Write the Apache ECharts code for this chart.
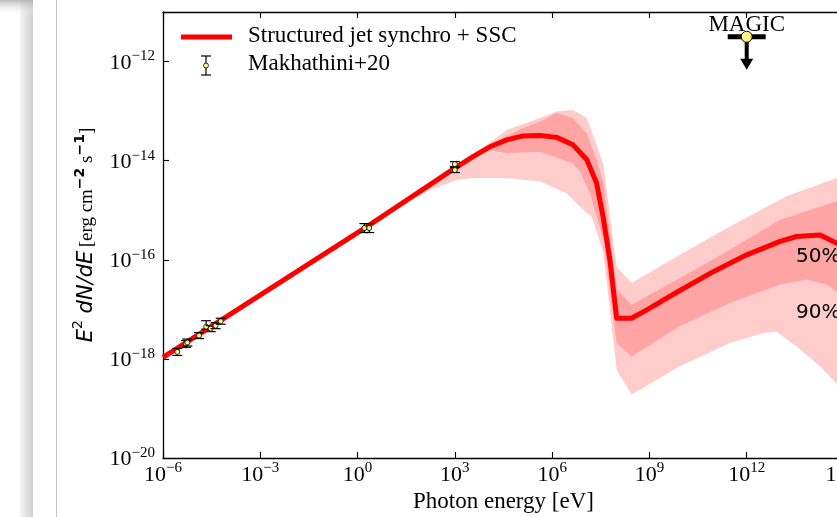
<!DOCTYPE html>
<html>
<head>
<meta charset="utf-8">
<script src="https://cdn.jsdelivr.net/npm/echarts@6/dist/echarts.min.js"></script>
<style>
  html, body { margin: 0; padding: 0; background: #fff; }
  #chart { width: 837px; height: 517px; }
</style>
</head>
<body>
<div id="chart"></div>
<script>
// all values are log10 (energy in eV, flux in erg cm^-2 s^-1)
const xTicks = [-6, -3, 0, 3, 6, 9, 12, 15];
const yTicks = [-20, -18, -16, -14, -12];

// structured jet synchro + SSC model
const modelLogE = [-6, 0.29, 3.0, 3.56, 4.08, 4.6, 5.1, 5.63, 6.14, 6.64, 7.07, 7.37, 7.57, 7.78, 7.99, 8.45, 8.92, 9.94, 10.97, 12.0, 13.03, 13.54, 14.26, 14.77, 15.2];
const modelLogF = [-17.97, -15.33, -14.15, -13.92, -13.72, -13.58, -13.50, -13.49, -13.53, -13.68, -13.98, -14.45, -15.13, -16.0, -17.18, -17.18, -17.01, -16.62, -16.24, -15.90, -15.63, -15.53, -15.50, -15.66, -15.9];

// 90% band
const band90HiE = [1.0, 2.2, 3.0, 4.08, 4.6, 5.63, 6.14, 6.64, 7.07, 7.37, 7.58, 7.78, 7.99, 8.45, 9.94, 11.48, 13.23, 14.77, 15.2];
const band90HiF = [-15.01, -14.49, -14.10, -13.64, -13.38, -13.14, -13.01, -12.98, -13.14, -13.68, -14.08, -15.09, -16.14, -16.47, -15.90, -15.33, -14.72, -14.35, -14.25];
const band90LoE = [1.0, 2.23, 3.06, 3.56, 4.6, 5.63, 6.45, 6.95, 7.22, 7.58, 7.99, 8.45, 9.94, 11.48, 12.51, 12.92, 13.54, 14.26, 14.77, 15.2];
const band90LoF = [-15.03, -14.59, -14.39, -14.35, -14.35, -14.42, -14.66, -14.99, -15.13, -15.86, -18.22, -18.72, -18.15, -17.68, -17.48, -17.45, -17.75, -18.15, -18.49, -18.72];

// 50% band
const band50HiE = [2.5, 3.0, 4.08, 5.1, 5.63, 6.14, 6.64, 7.07, 7.37, 7.58, 7.99, 8.45, 9.94, 11.48, 13.03, 14.77, 15.2];
const band50HiF = [-14.36, -14.12, -13.68, -13.34, -13.21, -13.04, -13.14, -13.45, -13.98, -14.45, -16.60, -16.91, -16.37, -15.80, -15.19, -14.82, -14.73];
const band50LoE = [2.5, 3.0, 4.08, 4.6, 5.63, 6.64, 6.86, 7.17, 7.58, 7.99, 8.45, 9.94, 11.48, 13.03, 13.85, 14.47, 14.77, 15.2];
const band50LoF = [-14.38, -14.17, -13.78, -13.85, -13.82, -14.05, -14.22, -14.66, -15.60, -17.68, -17.95, -17.34, -16.87, -16.50, -16.40, -16.50, -16.64, -16.81];

// Makhathini+20 data points with errors (dex)
const dataLogE = [-5.56, -5.29, -5.25, -4.89, -4.67, -4.53, -4.38, -4.22, 0.21, 0.36, 3.0, 3.0];
const dataLogF = [-17.86, -17.70, -17.67, -17.53, -17.35, -17.39, -17.33, -17.24, -15.36, -15.36, -14.07, -14.19];
const dataErrLo = [0.07, 0.07, 0.07, 0.06, 0.05, 0.06, 0.06, 0.06, 0.09, 0.09, 0.05, 0.05];
const dataErrHi = [0.07, 0.07, 0.07, 0.06, 0.12, 0.06, 0.06, 0.06, 0.09, 0.09, 0.05, 0.05];

// MAGIC upper limit
const magicLogE = 12;
const magicLogF = -11.50;

const serif = 'Liberation Serif';
const chart = echarts.init(document.getElementById('chart'));

const pairs = (xs, ys) => xs.map((x, i) => [x, ys[i]]);
const supText = v => (v < 0 ? '\u2212' + Math.abs(v) : String(v));
const tickRich = {
  b: { fontFamily: serif, fontSize: 22, color: '#000', verticalAlign: 'bottom', lineHeight: 25 },
  s: { fontFamily: serif, fontSize: 15, color: '#000', verticalAlign: 'bottom', lineHeight: 15, padding: [0, 0, 10, 0] }
};

function bandSeries(hiE, hiF, loE, loF, color, z) {
  return {
    type: 'custom',
    z: z,
    silent: true,
    data: [[hiE[0], hiF[0]]],
    renderItem: (params, api) => {
      const pts = pairs(hiE, hiF).concat(pairs(loE, loF).reverse()).map(p => api.coord(p));
      return { type: 'polygon', shape: { points: pts }, style: { fill: color } };
    }
  };
}

const option = {
  animation: false,
  grid: { left: 163, top: 12, right: -7, bottom: 59, containLabel: false, outerBoundsMode: 'none' },
  xAxis: [{
    type: 'value', min: -6, max: 15, interval: 3, position: 'bottom',
    axisLine: { onZero: false, lineStyle: { color: '#000', width: 1.3 } },
    axisTick: { inside: true, length: 6, lineStyle: { color: '#000', width: 1.1 } },
    splitLine: { show: false },
    axisLabel: {
      margin: 3, showMinLabel: true, showMaxLabel: true,
      formatter: v => xTicks.indexOf(v) >= 0 ? '{b|10}{s|' + supText(v) + '}' : '',
      rich: tickRich
    },
    name: 'Photon energy [eV]', nameLocation: 'middle', nameGap: 26,
    nameTextStyle: { fontFamily: serif, fontSize: 23, color: '#000' }
  }, {
    type: 'value', min: -6, max: 15, interval: 3, position: 'top',
    axisLine: { onZero: false, lineStyle: { color: '#000', width: 1.3 } },
    axisTick: { inside: true, length: 6, lineStyle: { color: '#000', width: 1.1 } },
    axisLabel: { show: false }, splitLine: { show: false }
  }],
  yAxis: [{
    type: 'value', min: -20, max: -11, interval: 2, position: 'left',
    axisLine: { onZero: false, lineStyle: { color: '#000', width: 1.3 } },
    axisTick: { inside: true, length: 6, lineStyle: { color: '#000', width: 1.1 } },
    splitLine: { show: false },
    axisLabel: {
      margin: 8, showMinLabel: true,
      formatter: v => yTicks.indexOf(v) >= 0 ? '{b|10}{s|' + supText(v) + '}' : '',
      rich: tickRich
    },
    name: '{i|E}{is|2}{i| dN/dE} {r|[erg cm}{rs|\u22122}{r| s}{rs|\u22121}{r|]}',
    nameLocation: 'middle', nameRotate: 90, nameGap: 66,
    nameTextStyle: {
      rich: {
        i: { fontFamily: 'DejaVu Sans', fontStyle: 'italic', fontSize: 21, color: '#000', verticalAlign: 'bottom', lineHeight: 26 },
        is: { fontFamily: 'DejaVu Sans', fontSize: 14, color: '#000', verticalAlign: 'bottom', lineHeight: 14, padding: [0, 0, 12, 0] },
        r: { fontFamily: serif, fontSize: 19, color: '#000', verticalAlign: 'bottom', lineHeight: 24 },
        rs: { fontFamily: 'DejaVu Sans', fontSize: 14, fontWeight: 'bold', color: '#000', verticalAlign: 'bottom', lineHeight: 14, padding: [0, 0, 10, 0] }
      }
    }
  }],
  graphic: [
    // screenshot edge shading on the left
    { type: 'rect', left: 20, top: 0, shape: { width: 13, height: 517 }, z: -10,
      style: { fill: new echarts.graphic.LinearGradient(0, 0, 1, 0, [{ offset: 0, color: '#f4f4f4' }, { offset: 1, color: '#cfcfcf' }]) } },
    { type: 'rect', left: 0, top: 0, shape: { width: 33, height: 16 }, z: -9,
      style: { fill: new echarts.graphic.LinearGradient(0, 0, 0, 1, [{ offset: 0, color: 'rgba(170,170,170,0.8)' }, { offset: 1, color: 'rgba(255,255,255,0)' }]) } },
    { type: 'rect', left: 56, top: 0, shape: { width: 1, height: 517 }, z: -10, style: { fill: '#c4c4c4' } },
    // legend
    { type: 'line', shape: { x1: 181, y1: 37, x2: 232, y2: 37 }, style: { stroke: '#ff0000', lineWidth: 5 } },
    { type: 'text', left: 248, top: 24, style: { text: 'Structured jet synchro + SSC', font: '23px "Liberation Serif"', fill: '#000' } },
    { type: 'line', shape: { x1: 206, y1: 56, x2: 206, y2: 75 }, style: { stroke: '#000', lineWidth: 1.2 } },
    { type: 'line', shape: { x1: 201, y1: 56, x2: 211, y2: 56 }, style: { stroke: '#000', lineWidth: 1.2 } },
    { type: 'line', shape: { x1: 201, y1: 75, x2: 211, y2: 75 }, style: { stroke: '#000', lineWidth: 1.2 } },
    { type: 'circle', shape: { cx: 206, cy: 65.5, r: 2.5 }, style: { fill: '#fdf58c', stroke: '#000', lineWidth: 0.8 } },
    { type: 'text', left: 248, top: 52, style: { text: 'Makhathini+20', font: '23px "Liberation Serif"', fill: '#000' } },
    // band labels
    { type: 'text', left: 796, top: 247, z: 20, style: { text: '50%', font: '20px "DejaVu Sans"', fill: '#000' } },
    { type: 'text', left: 796, top: 303, z: 20, style: { text: '90%', font: '20px "DejaVu Sans"', fill: '#000' } }
  ],
  series: [
    bandSeries(band90HiE, band90HiF, band90LoE, band90LoF, '#ffcccc', 1),
    bandSeries(band50HiE, band50HiF, band50LoE, band50LoF, '#ffa4a4', 2),
    {
      type: 'line', z: 3, silent: true,
      data: pairs(modelLogE, modelLogF),
      showSymbol: false,
      lineStyle: { color: '#ff0000', width: 5, join: 'round' }
    },
    {
      type: 'custom', z: 5, silent: true,
      data: dataLogE.map((e, i) => [e, dataLogF[i], dataErrLo[i], dataErrHi[i]]),
      renderItem: (params, api) => {
        const e = api.value(0), f = api.value(1);
        const p = api.coord([e, f]);
        const lo = api.coord([e, f - api.value(2)]);
        const hi = api.coord([e, f + api.value(3)]);
        const ls = { stroke: '#000', lineWidth: 1.2 };
        return {
          type: 'group',
          children: [
            { type: 'line', shape: { x1: p[0], y1: hi[1], x2: p[0], y2: lo[1] }, style: ls },
            { type: 'line', shape: { x1: p[0] - 5, y1: hi[1], x2: p[0] + 5, y2: hi[1] }, style: ls },
            { type: 'line', shape: { x1: p[0] - 5, y1: lo[1], x2: p[0] + 5, y2: lo[1] }, style: ls },
            { type: 'circle', shape: { cx: p[0], cy: p[1], r: 2.5 }, style: { fill: '#fdf58c', stroke: '#000', lineWidth: 0.8 } }
          ]
        };
      }
    },
    {
      type: 'custom', z: 6, silent: true, clip: false,
      data: [[magicLogE, magicLogF]],
      renderItem: (params, api) => {
        const p = api.coord([api.value(0), api.value(1)]);
        return {
          type: 'group',
          children: [
            { type: 'rect', shape: { x: p[0] - 19, y: p[1] - 2.5, width: 38, height: 5 }, style: { fill: '#000' } },
            { type: 'rect', shape: { x: p[0] - 2, y: p[1], width: 4, height: 23 }, style: { fill: '#000' } },
            { type: 'polygon', shape: { points: [[p[0] - 6.5, p[1] + 22], [p[0] + 6.5, p[1] + 22], [p[0], p[1] + 33]] }, style: { fill: '#000' } },
            { type: 'circle', shape: { cx: p[0], cy: p[1], r: 5.5 }, style: { fill: '#fdf58c', stroke: '#000', lineWidth: 1 } },
            { type: 'text', style: { text: 'MAGIC', x: p[0], y: p[1] - 12, align: 'center', verticalAlign: 'middle', font: '23px "Liberation Serif"', fill: '#000' } }
          ]
        };
      }
    }
  ]
};

chart.setOption(option);
</script>
</body>
</html>
